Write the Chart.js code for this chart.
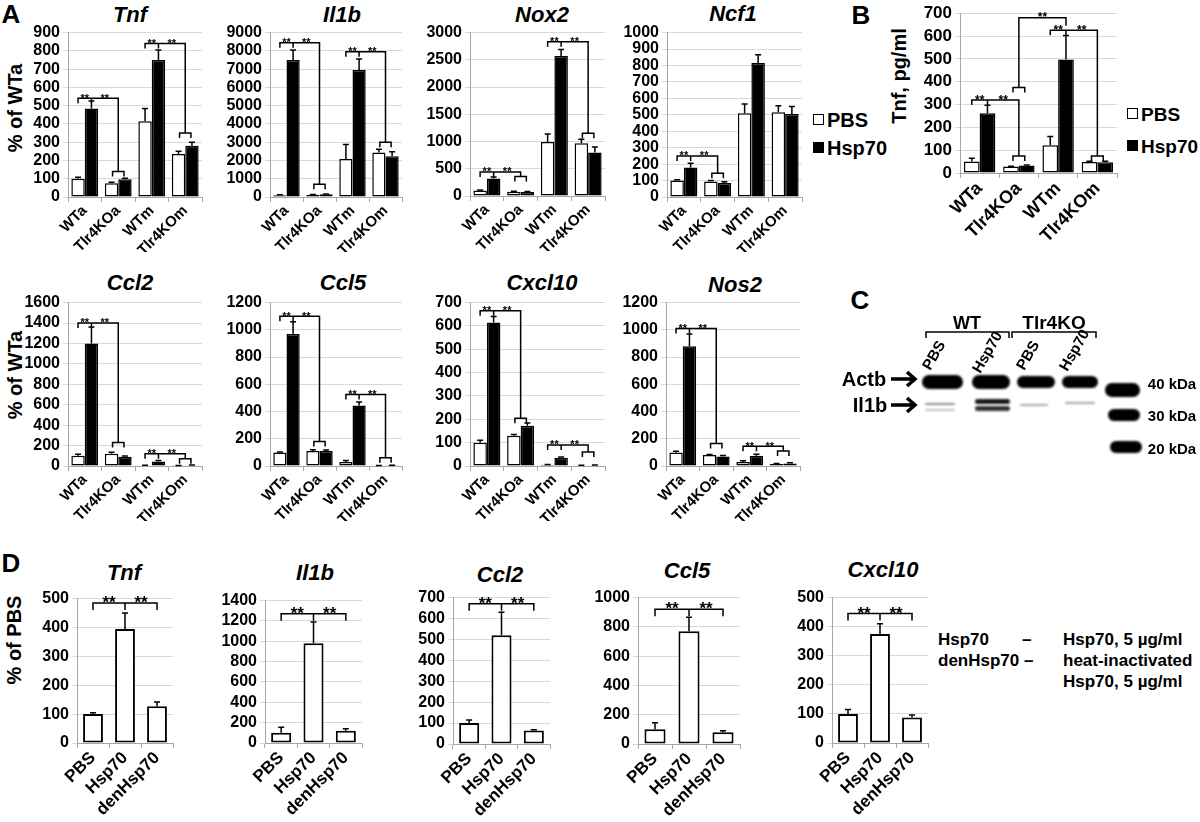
<!DOCTYPE html>
<html lang="en">
<head>
<meta charset="UTF-8">
<title>Hsp70 / Tlr4 figure</title>
<script src="https://cdn.jsdelivr.net/npm/chart.js"></script>
<style>
  body { margin: 0; width: 1200px; height: 822px; position: relative; overflow: hidden; background: #fff;
         font-family: "Liberation Sans", Arial, sans-serif; font-weight: bold; color: #000; }
  .t { position: absolute; white-space: nowrap; transform: translate(-50%, -50%); }
  .panel { font-size: 26px; }
  .gene { font-size: 22px; font-style: italic; }
  .ytitle { font-size: 20px; transform: translate(-50%, -50%) rotate(-90deg); }
  .leg { position: absolute; font-size: 20px; line-height: 20px; white-space: nowrap; }
  .leg i { display: inline-block; width: 9px; height: 9px; border: 1.5px solid #000; margin-right: 3px; vertical-align: 2px; }
  .lane { position: absolute; font-size: 15px; transform-origin: 0 100%; transform: rotate(-60deg); white-space: nowrap; line-height: 15px; }
  .note { position: absolute; font-size: 17px; white-space: nowrap; }
</style>
</head>
<body>

<div class="t panel" style="left:11px;top:14px">A</div>
<div class="t panel" style="left:861px;top:15px">B</div>
<div class="t panel" style="left:860px;top:300px">C</div>
<div class="t panel" style="left:11px;top:563px">D</div>

<div class="t gene" style="left:130px;top:15px">Tnf</div>
<div class="t gene" style="left:342px;top:15px">Il1b</div>
<div class="t gene" style="left:542px;top:15px">Nox2</div>
<div class="t gene" style="left:733px;top:14px">Ncf1</div>
<div class="t gene" style="left:130px;top:283px">Ccl2</div>
<div class="t gene" style="left:343px;top:283px">Ccl5</div>
<div class="t gene" style="left:542px;top:283px">Cxcl10</div>
<div class="t gene" style="left:735px;top:285px">Nos2</div>
<div class="t gene" style="left:124px;top:573px">Tnf</div>
<div class="t gene" style="left:315px;top:573px">Il1b</div>
<div class="t gene" style="left:500px;top:575px">Ccl2</div>
<div class="t gene" style="left:687px;top:571px">Ccl5</div>
<div class="t gene" style="left:883px;top:570px">Cxcl10</div>

<div class="t ytitle" style="left:15px;top:108px">% of WTa</div>
<div class="t ytitle" style="left:15px;top:375px">% of WTa</div>
<div class="t ytitle" style="left:899px;top:76px">Tnf, pg/ml</div>
<div class="t ytitle" style="left:14px;top:640px">% of PBS</div>

<div class="leg" style="left:813px;top:110px"><i style="background:#fff"></i>PBS</div>
<div class="leg" style="left:813px;top:138px"><i style="background:#000"></i>Hsp70</div>
<div class="leg" style="left:1127px;top:105px;font-size:19px"><i style="background:#fff"></i>PBS</div>
<div class="leg" style="left:1127px;top:137px;font-size:19px"><i style="background:#000"></i>Hsp70</div>

<!-- panel C blot -->
<canvas id="blot" width="370" height="170" style="position:absolute;left:830px;top:290px"></canvas>
<div class="t" style="left:967px;top:323px;font-size:18px">WT</div>
<div class="t" style="left:1054px;top:323px;font-size:19px">Tlr4KO</div>
<div class="lane" style="left:932px;top:357px">PBS</div>
<div class="lane" style="left:982px;top:360px">Hsp70</div>
<div class="lane" style="left:1026px;top:357px">PBS</div>
<div class="lane" style="left:1069px;top:358px">Hsp70</div>
<div class="t" style="left:864px;top:379px;font-size:20px">Actb</div>
<div class="t" style="left:870px;top:405px;font-size:20px">Il1b</div>
<div class="t" style="left:1172px;top:383px;font-size:15px">40 kDa</div>
<div class="t" style="left:1172px;top:415px;font-size:15px">30 kDa</div>
<div class="t" style="left:1172px;top:448px;font-size:15px">20 kDa</div>

<div class="note" style="left:938px;top:630px">Hsp70</div>
<div class="note" style="left:1022px;top:630px">–</div>
<div class="note" style="left:1063px;top:630px">Hsp70, 5 µg/ml</div>
<div class="note" style="left:938px;top:651px">denHsp70 –</div>
<div class="note" style="left:1063px;top:651px">heat-inactivated</div>
<div class="note" style="left:1063px;top:672px">Hsp70, 5 µg/ml</div>

<script>
const groupsA = ['WTa', 'Tlr4KOa', 'WTm', 'Tlr4KOm'];
const groupsD = ['PBS', 'Hsp70', 'denHsp70'];

// panel A, % of WTa (mean and upper error)
const tnfPbs = [100, 75, 415, 235],     tnfPbsErr = [8, 6, 70, 15];
const tnfHsp = [485, 97, 750, 280],     tnfHspErr = [40, 5, 55, 20];
const il1bPbs = [100, 130, 2080, 2430], il1bPbsErr = [20, 10, 800, 180];
const il1bHsp = [7500, 150, 6950, 2230], il1bHspErr = [550, 15, 600, 250];
const nox2Pbs = [100, 80, 990, 970],    nox2PbsErr = [10, 8, 150, 70];
const nox2Hsp = [320, 75, 2570, 800],   nox2HspErr = [30, 8, 120, 100];
const ncf1Pbs = [100, 95, 510, 515],    ncf1PbsErr = [5, 5, 55, 40];
const ncf1Hsp = [180, 85, 815, 505],    ncf1HspErr = [25, 8, 50, 45];
const ccl2Pbs = [100, 120, 5, 3],       ccl2PbsErr = [15, 15, 2, 1];
const ccl2Hsp = [1200, 90, 45, 8],      ccl2HspErr = [160, 8, 10, 2];
const ccl5Pbs = [100, 110, 30, 3],      ccl5PbsErr = [3, 10, 10, 1];
const ccl5Hsp = [970, 110, 445, 5],     ccl5HspErr = [90, 8, 25, 1];
const cxcl10Pbs = [100, 130, 5, 2],     cxcl10PbsErr = [10, 5, 1, 1];
const cxcl10Hsp = [615, 172, 35, 3],    cxcl10HspErr = [25, 12, 4, 1];
const nos2Pbs = [100, 80, 30, 15],      nos2PbsErr = [8, 5, 8, 4];
const nos2Hsp = [880, 70, 75, 18],      nos2HspErr = [90, 8, 12, 5];

// panel B, Tnf pg/ml
const tnfPgPbs = [50, 28, 122, 48],     tnfPgPbsErr = [15, 2, 38, 3];
const tnfPgHsp = [262, 33, 497, 47],    tnfPgHspErr = [35, 2, 105, 5];

// panel D, % of PBS
const dTnf = [100, 395, 127],    dTnfErr = [5, 55, 15];
const dIl1b = [100, 980, 120],   dIl1bErr = [55, 210, 20];
const dCcl2 = [100, 520, 65],    dCcl2Err = [15, 110, 3];
const dCcl5 = [100, 770, 80],    dCcl5Err = [45, 95, 10];
const dCxcl10 = [100, 375, 88],  dCxcl10Err = [15, 35, 8];

// significance brackets: [from, to, level, leftEnd, rightEnd] (positions in category units)
const tnfSig = [[-0.2, 0.2, 540], [0.2, 1, 540, null, 140], [1.8, 2.2, 840], [2.2, 3, 840, null, 350]];
const tnfCaps = [[1, 140], [3, 350]];
const il1bSig = [[-0.2, 0.2, 8450], [0.2, 1, 8450, null, 700], [1.8, 2.2, 7950], [2.2, 3, 7950, null, 3000]];
const il1bCaps = [[1, 700], [3, 3000]];
const nox2Sig = [[-0.2, 0.2, 440], [0.2, 1, 440, null, 360], [1.8, 2.2, 2830], [2.2, 3, 2830, null, 1150]];
const nox2Caps = [[1, 360], [3, 1150]];
const ncf1Sig = [[-0.2, 0.2, 250], [0.2, 1, 250, null, 145]];
const ncf1Caps = [[1, 145]];
const ccl2Sig = [[-0.2, 0.2, 1400], [0.2, 1, 1400, null, 230], [1.8, 2.2, 120], [2.2, 3, 120, null, 70]];
const ccl2Caps = [[1, 230], [3, 70]];
const ccl5Sig = [[-0.2, 0.2, 1100], [0.2, 1, 1100, null, 180], [1.8, 2.2, 525], [2.2, 3, 525, null, 60]];
const ccl5Caps = [[1, 180], [3, 60]];
const cxcl10Sig = [[-0.2, 0.2, 665], [0.2, 1, 665, null, 205], [1.8, 2.2, 90], [2.2, 3, 90, null, 60]];
const cxcl10Caps = [[1, 205], [3, 60]];
const nos2Sig = [[-0.2, 0.2, 1010], [0.2, 1, 1010, null, 165], [1.8, 2.2, 145], [2.2, 3, 145, null, 110]];
const nos2Caps = [[1, 165], [3, 110]];
const tnfPgSig = [[-0.2, 0.2, 320], [0.2, 1, 320, null, 75], [1, 2.2, 680, 375, 645], [1.8, 2.2, 625], [2.2, 3, 625, null, 75]];
const tnfPgCaps = [[1, 75], [1, 375], [3, 75]];
const dTnfSig = [[0, 1, 485], [1, 2, 485]];
const dIl1bSig = [[0, 1, 1270], [1, 2, 1270]];
const dCcl2Sig = [[0, 1, 670], [1, 2, 670]];
const dCcl5Sig = [[0, 1, 920], [1, 2, 920]];
const dCxcl10Sig = [[0, 1, 445], [1, 2, 445]];

const FONT = '"Liberation Sans", Arial, sans-serif';

const errPlugin = {
  id: 'errs',
  afterDatasetsDraw(chart) {
    const ctx = chart.ctx, y = chart.scales.y;
    ctx.save();
    ctx.strokeStyle = '#000';
    ctx.lineWidth = 1.5;
    chart.data.datasets.forEach((ds, i) => {
      chart.getDatasetMeta(i).data.forEach((bar, j) => {
        const top = y.getPixelForValue(ds.data[j] + ds.err[j]);
        ctx.beginPath();
        ctx.moveTo(bar.x, bar.y);
        ctx.lineTo(bar.x, top);
        ctx.moveTo(bar.x - 3, top);
        ctx.lineTo(bar.x + 3, top);
        ctx.stroke();
      });
    });
    ctx.restore();
  }
};

const sigPlugin = {
  id: 'sig',
  afterDatasetsDraw(chart, args, o) {
    if (!o.lines) return;
    const ctx = chart.ctx, a = chart.chartArea, y = chart.scales.y;
    const cw = (a.right - a.left) / chart.data.labels.length;
    const px = p => a.left + (p + 0.5) * cw;
    ctx.save();
    ctx.strokeStyle = '#000';
    ctx.fillStyle = '#000';
    ctx.lineWidth = 1.5;
    ctx.font = 'bold ' + o.star + 'px ' + FONT;
    ctx.textAlign = 'center';
    ctx.textBaseline = 'alphabetic';
    ctx.beginPath();
    o.lines.forEach(([p1, p2, v, e1, e2]) => {
      const yy = y.getPixelForValue(v);
      const y1 = e1 == null ? yy + o.leg : y.getPixelForValue(e1);
      const y2 = e2 == null ? yy + o.leg : y.getPixelForValue(e2);
      ctx.moveTo(px(p1), y1);
      ctx.lineTo(px(p1), yy);
      ctx.lineTo(px(p2), yy);
      ctx.lineTo(px(p2), y2);
      ctx.fillText('**', (px(p1) + px(p2)) / 2, yy + o.star * 0.3);
    });
    (o.caps || []).forEach(([p, v]) => {
      const yy = y.getPixelForValue(v);
      ctx.moveTo(px(p - o.capW), yy + o.leg);
      ctx.lineTo(px(p - o.capW), yy);
      ctx.lineTo(px(p + o.capW), yy);
      ctx.lineTo(px(p + o.capW), yy + o.leg);
    });
    ctx.stroke();
    ctx.restore();
  }
};

const styleA = { xH: 55, tick: 16, xFont: 15, cat: 0.8, star: 11, leg: 5, capW: 0.17, bw: 1.5 };
const styleB = { xH: 75, tick: 17, xFont: 18, cat: 0.8, star: 12, leg: 5, capW: 0.15, bw: 1.5 };
const styleD = { xH: 80, tick: 16, xFont: 17, cat: 0.62, star: 17, leg: 7, capW: 0.15, bw: 2 };

function bars(plot, labels, sets, yMax, yStep, lines, caps, st) {
  const yW = 58, padTop = Math.min(12, plot[1]), padRight = 8;
  const left = plot[0] - yW, top = plot[1] - padTop;
  const w = plot[2] - left + padRight, h = plot[3] - top + st.xH;
  const c = document.createElement('canvas');
  c.width = w; c.height = h;
  c.style.cssText = `position:absolute;left:${left}px;top:${top}px`;
  document.body.appendChild(c);
  new Chart(c, {
    type: 'bar',
    data: {
      labels: labels,
      datasets: sets.map(s => ({
        data: s[0], err: s[1], backgroundColor: s[2], borderColor: '#000',
        borderWidth: st.bw, borderSkipped: false, categoryPercentage: st.cat, barPercentage: 1
      }))
    },
    options: {
      responsive: false, animation: false, devicePixelRatio: 1,
      layout: { padding: { top: padTop, right: padRight, left: 0, bottom: 0 } },
      plugins: {
        legend: { display: false }, tooltip: { enabled: false },
        sig: { lines: lines, caps: caps, star: st.star, leg: st.leg, capW: st.capW }
      },
      scales: {
        x: {
          grid: { drawOnChartArea: false, tickLength: 5, color: '#a6a6a6' },
          border: { color: '#a6a6a6' },
          ticks: { color: '#000', font: { family: FONT, size: st.xFont, weight: 'bold' },
                   minRotation: 45, maxRotation: 45, autoSkip: false, padding: 0 },
          afterFit: s => { s.height = st.xH; }
        },
        y: {
          min: 0, max: yMax,
          grid: { color: '#d9d9d9', tickLength: 5 },
          border: { color: '#a6a6a6' },
          ticks: { stepSize: yStep, color: '#000', padding: 3, autoSkip: false,
                   callback: v => String(v),
                   font: { family: FONT, size: st.tick, weight: 'bold' } },
          afterFit: s => { s.width = yW; }
        }
      }
    },
    plugins: [errPlugin, sigPlugin]
  });
}

// panel A
bars([68, 32, 202, 197], groupsA, [[tnfPbs, tnfPbsErr, '#fff'], [tnfHsp, tnfHspErr, '#000']], 900, 100, tnfSig, tnfCaps, styleA);
bars([270, 32, 402, 197], groupsA, [[il1bPbs, il1bPbsErr, '#fff'], [il1bHsp, il1bHspErr, '#000']], 9000, 1000, il1bSig, il1bCaps, styleA);
bars([470, 32, 605, 196], groupsA, [[nox2Pbs, nox2PbsErr, '#fff'], [nox2Hsp, nox2HspErr, '#000']], 3000, 500, nox2Sig, nox2Caps, styleA);
bars([667, 32, 802, 197], groupsA, [[ncf1Pbs, ncf1PbsErr, '#fff'], [ncf1Hsp, ncf1HspErr, '#000']], 1000, 100, ncf1Sig, ncf1Caps, styleA);
bars([68, 302, 202, 466], groupsA, [[ccl2Pbs, ccl2PbsErr, '#fff'], [ccl2Hsp, ccl2HspErr, '#000']], 1600, 200, ccl2Sig, ccl2Caps, styleA);
bars([270, 302, 402, 466], groupsA, [[ccl5Pbs, ccl5PbsErr, '#fff'], [ccl5Hsp, ccl5HspErr, '#000']], 1200, 200, ccl5Sig, ccl5Caps, styleA);
bars([470, 302, 605, 466], groupsA, [[cxcl10Pbs, cxcl10PbsErr, '#fff'], [cxcl10Hsp, cxcl10HspErr, '#000']], 700, 100, cxcl10Sig, cxcl10Caps, styleA);
bars([666, 302, 800, 466], groupsA, [[nos2Pbs, nos2PbsErr, '#fff'], [nos2Hsp, nos2HspErr, '#000']], 1200, 200, nos2Sig, nos2Caps, styleA);
// panel B
bars([960, 8, 1117, 173], groupsA, [[tnfPgPbs, tnfPgPbsErr, '#fff'], [tnfPgHsp, tnfPgHspErr, '#000']], 700, 100, tnfPgSig, tnfPgCaps, styleB);
// panel D
bars([77, 598, 173, 743], groupsD, [[dTnf, dTnfErr, '#fff']], 500, 100, dTnfSig, [], styleD);
bars([265, 600, 362, 743], groupsD, [[dIl1b, dIl1bErr, '#fff']], 1400, 200, dIl1bSig, [], styleD);
bars([453, 597, 550, 744], groupsD, [[dCcl2, dCcl2Err, '#fff']], 700, 100, dCcl2Sig, [], styleD);
bars([638, 597, 740, 744], groupsD, [[dCcl5, dCcl5Err, '#fff']], 1000, 200, dCcl5Sig, [], styleD);
bars([832, 597, 928, 743], groupsD, [[dCxcl10, dCxcl10Err, '#fff']], 500, 100, dCxcl10Sig, [], styleD);

// panel C: western blot sketch
(function () {
  const ctx = document.getElementById('blot').getContext('2d');
  const ox = 830, oy = 290;
  function band(x1, x2, y1, y2, alpha, blur) {
    ctx.save();
    ctx.filter = 'blur(' + blur + 'px)';
    ctx.fillStyle = 'rgba(0,0,0,' + alpha + ')';
    ctx.beginPath();
    ctx.roundRect(x1 - ox, y1 - oy, x2 - x1, y2 - y1, (y2 - y1) / 2);
    ctx.fill();
    ctx.restore();
  }
  band(922, 963, 375, 389, 1, 1);
  band(972, 1010, 375, 389, 1, 1);
  band(1017, 1055, 376, 388, 1, 1);
  band(1062, 1098, 376, 388, 1, 1);
  band(925, 955, 403, 405, 0.45, 0.8);
  band(925, 955, 409, 411, 0.25, 0.8);
  band(975, 1010, 399, 404, 0.9, 0.8);
  band(975, 1010, 406, 411, 0.8, 0.8);
  band(1020, 1048, 404, 406, 0.35, 0.8);
  band(1065, 1095, 402, 404, 0.35, 0.8);
  band(1105, 1140, 383, 397, 1, 1);
  band(1108, 1140, 409, 421, 1, 1);
  band(1110, 1142, 441, 453, 1, 1);

  ctx.strokeStyle = '#000';
  ctx.lineWidth = 1.5;
  ctx.beginPath();
  [[926, 1009], [1012, 1096]].forEach(([a, b]) => {
    ctx.moveTo(a - ox, 338 - oy); ctx.lineTo(a - ox, 332 - oy);
    ctx.lineTo(b - ox, 332 - oy); ctx.lineTo(b - ox, 338 - oy);
  });
  ctx.stroke();

  ctx.lineWidth = 3.5;
  ctx.lineCap = 'butt';
  [379, 405].forEach(yy => {
    ctx.beginPath();
    ctx.moveTo(891 - ox, yy - oy); ctx.lineTo(914 - ox, yy - oy);
    ctx.moveTo(907 - ox, yy - 7 - oy); ctx.lineTo(915 - ox, yy - oy); ctx.lineTo(907 - ox, yy + 7 - oy);
    ctx.stroke();
  });
})();
</script>
</body>
</html>
